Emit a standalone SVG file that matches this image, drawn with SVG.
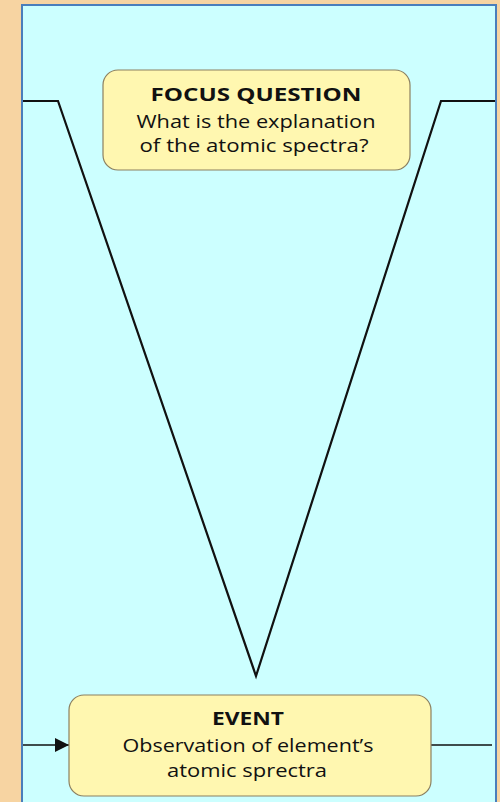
<svg xmlns="http://www.w3.org/2000/svg" width="500" height="802" viewBox="0 0 500 802">
  <style>
    .node rect { fill: #FFF7B0; stroke: #8C8060; stroke-width: 1.2; }
    .title { font-family: "Open Sans", "DejaVu Sans", sans-serif; font-weight: bold; font-size: 18px; fill: #111; text-anchor: middle; }
    .body { font-family: "Open Sans", "DejaVu Sans", sans-serif; font-size: 18px; fill: #111; text-anchor: middle; }
    .conn { fill: none; stroke: #111; }
  </style>
  <defs>
    <marker id="arrow" markerWidth="14" markerHeight="14" refX="14" refY="7" orient="auto" markerUnits="userSpaceOnUse">
      <path d="M0,0 L14,7 L0,14 Z" fill="#111"/>
    </marker>
  </defs>
  <rect x="0" y="0" width="500" height="802" fill="#F7D4A2"/>
  <rect x="22" y="5" width="474" height="810" fill="#CCFFFF" stroke="#4A7EBB" stroke-width="2"/>
  <g id="connectors">
    <polyline class="conn" stroke-width="2.2" points="23,101 58,101 256,676 441,101 495,101"/>
    <line class="conn" stroke-width="1.3" stroke="#333" x1="23" y1="745" x2="69" y2="745" marker-end="url(#arrow)"/>
    <line class="conn" stroke-width="1.3" stroke="#333" x1="431" y1="745" x2="492" y2="745"/>
  </g>
  <g id="focus-question" class="node">
    <rect x="103" y="70" width="307" height="100" rx="15" ry="15"/>
    <text class="title" x="256" y="101" textLength="211" lengthAdjust="spacingAndGlyphs">FOCUS QUESTION</text>
    <text class="body" x="256" y="128" textLength="239" lengthAdjust="spacingAndGlyphs">What is the explanation</text>
    <text class="body" x="254" y="152" textLength="229" lengthAdjust="spacingAndGlyphs">of the atomic spectra?</text>
  </g>
  <g id="event" class="node">
    <rect x="69" y="695" width="362" height="101" rx="15" ry="15"/>
    <text class="title" x="248" y="725" textLength="72" lengthAdjust="spacingAndGlyphs">EVENT</text>
    <text class="body" x="248" y="752" textLength="251" lengthAdjust="spacingAndGlyphs">Observation of element’s</text>
    <text class="body" x="247" y="777" textLength="160" lengthAdjust="spacingAndGlyphs">atomic sprectra</text>
  </g>
</svg>
